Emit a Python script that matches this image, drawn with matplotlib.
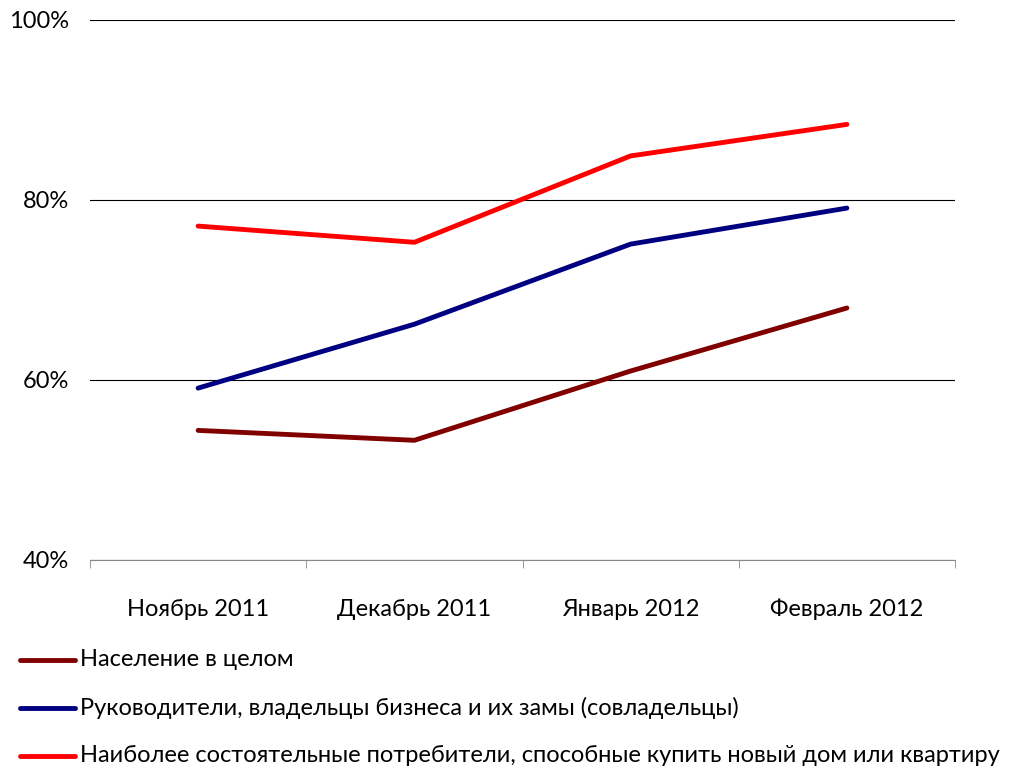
import matplotlib.pyplot as plt
from matplotlib.lines import Line2D

months = ["Ноябрь 2011", "Декабрь 2011", "Январь 2012", "Февраль 2012"]
population = [54.4, 53.3, 61.0, 68.0]
managers = [59.1, 66.2, 75.1, 79.1]
wealthy = [77.1, 75.3, 84.9, 88.4]

labels = ["Население в целом",
          "Руководители, владельцы бизнеса и их замы (совладельцы)",
          "Наиболее состоятельные потребители, способные купить новый дом или квартиру"]
colors = ["#800000", "#000080", "#ff0000"]

plt.rcParams['font.family'] = ['Lato', 'DejaVu Sans']

fig = plt.figure(figsize=(10.19, 7.72), dpi=100)
ax = fig.add_axes([90/1019, 1 - 560/772, 865/1019, 540/772])

x = [0, 1, 2, 3]
for vals, c in zip([population, managers, wealthy], colors):
    ax.plot(x, vals, color=c, linewidth=3.5, solid_capstyle='round')

ax.set_xlim(-0.5, 3.5)
ax.set_ylim(40, 100)
ax.set_yticks([40, 60, 80, 100])
ax.set_yticklabels(["40%", "60%", "80%", "100%"], fontsize=17)
ax.yaxis.grid(True, color='black', linewidth=0.8)
ax.set_axisbelow(True)
ax.set_xticks(x)
ax.set_xticklabels(months, fontsize=17)
ax.set_xticks([-0.5, 0.5, 1.5, 2.5, 3.5], minor=True)
ax.tick_params(axis='x', which='major', length=0, pad=28)
ax.tick_params(axis='x', which='minor', length=6, color='#888888')
ax.tick_params(axis='y', length=0, pad=15)
for s in ['top', 'right', 'left']:
    ax.spines[s].set_visible(False)
ax.spines['bottom'].set_color('#888888')

# legend below the plot
ys = [660, 708, 756]
for yy, lab, c in zip(ys, labels, colors):
    fy = 1 - yy / 772
    fig.add_artist(Line2D([20/1019, 75/1019], [fy, fy], color=c, linewidth=3.5,
                          solid_capstyle='round', transform=fig.transFigure))
    fig.text(80/1019, fy, lab, fontsize=17, va='center', ha='left')

fig.savefig("out.png", dpi=100)
